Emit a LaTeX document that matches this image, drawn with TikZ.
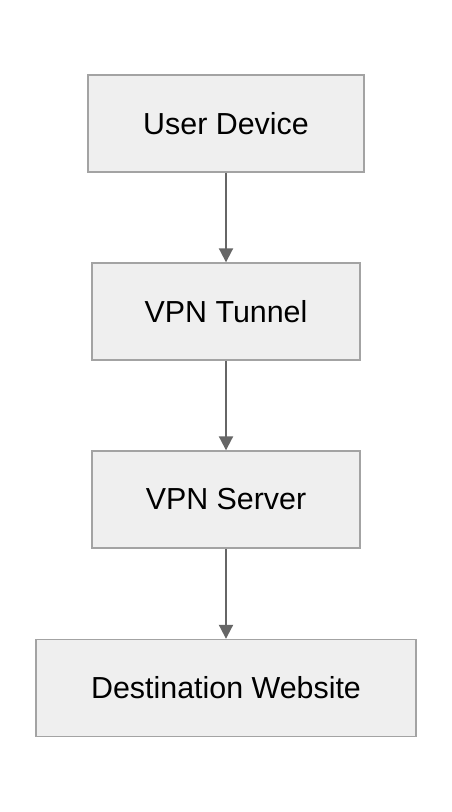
\documentclass[tikz,border=0pt]{standalone}
\usepackage{fontspec}
\setmainfont{Liberation Sans}
\usetikzlibrary{arrows.meta}
\definecolor{boxfill}{HTML}{EFEFEF}
\definecolor{boxline}{HTML}{A3A3A3}
\definecolor{linkcol}{HTML}{666666}
\begin{document}
\begin{tikzpicture}[x=1pt,y=-1pt,
		box/.style={draw=boxline,fill=boxfill,line width=1.4pt,minimum height=97pt,inner sep=0pt,font=\fontsize{30.4}{36}\selectfont},
		link/.style={draw=linkcol,line width=2pt,-{Triangle[length=14pt,width=14pt]}}]
		\useasboundingbox (0,0) rectangle (452,812);
		
		\node[box,minimum width=276pt] at (226,123.5) (device) {User Device};
		\node[box,minimum width=268pt] at (226,311.5) (tunnel) {VPN Tunnel};
		\node[box,minimum width=268pt] at (226,499.5) (server) {VPN Server};
		\node[box,minimum width=380pt] at (226,688) (site) {Destination Website};
		
		\draw[link] (device) -- (tunnel);
		\draw[link] (tunnel) -- (server);
		\draw[link] (server) -- (site);
	\end{tikzpicture}
\end{document}
